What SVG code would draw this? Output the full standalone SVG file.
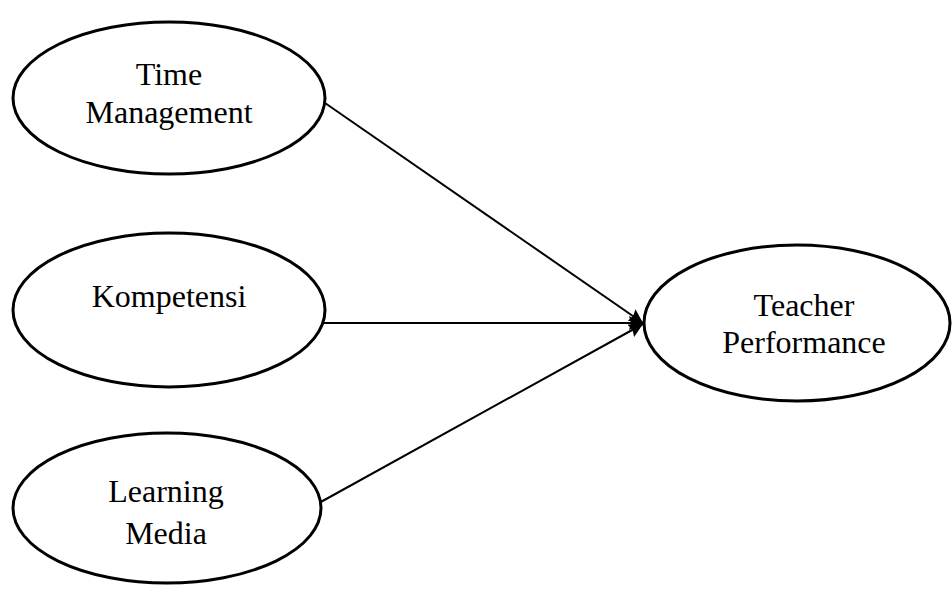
<svg xmlns="http://www.w3.org/2000/svg" width="952" height="594" viewBox="0 0 952 594">
<defs>
<style>
.node ellipse{fill:#fff;stroke:#000;stroke-width:3}
.node text{font-family:"Liberation Serif","Times New Roman",serif;font-size:32px;fill:#000;text-anchor:middle}
.conn line{stroke:#000;stroke-width:2}
</style>
<marker id="ah" viewBox="0 0 14 14" refX="14" refY="7" markerWidth="14" markerHeight="14" markerUnits="userSpaceOnUse" orient="auto">
<path d="M0,0 L14,7 L0,14 L2,7 Z" fill="#000"/>
</marker>
</defs>
<rect width="952" height="594" fill="#fff"/>
<g id="connectors" class="conn">
<line x1="325" y1="103" x2="643" y2="323" marker-end="url(#ah)"/>
<line x1="324" y1="323" x2="643" y2="323" marker-end="url(#ah)"/>
<line x1="319" y1="503" x2="643" y2="324" marker-end="url(#ah)"/>
</g>
<g id="time-management" class="node">
<ellipse cx="169" cy="98" rx="156" ry="76"/>
<text x="169" y="85">Time</text>
<text x="169" y="123">Management</text>
</g>
<g id="kompetensi" class="node">
<ellipse cx="169" cy="310" rx="156" ry="77"/>
<text x="169" y="307">Kompetensi</text>
</g>
<g id="learning-media" class="node">
<ellipse cx="167" cy="508" rx="154" ry="75"/>
<text x="166" y="502">Learning</text>
<text x="166" y="544">Media</text>
</g>
<g id="teacher-performance" class="node">
<ellipse cx="797" cy="323" rx="153" ry="78"/>
<text x="804" y="316">Teacher</text>
<text x="804" y="353">Performance</text>
</g>
</svg>
